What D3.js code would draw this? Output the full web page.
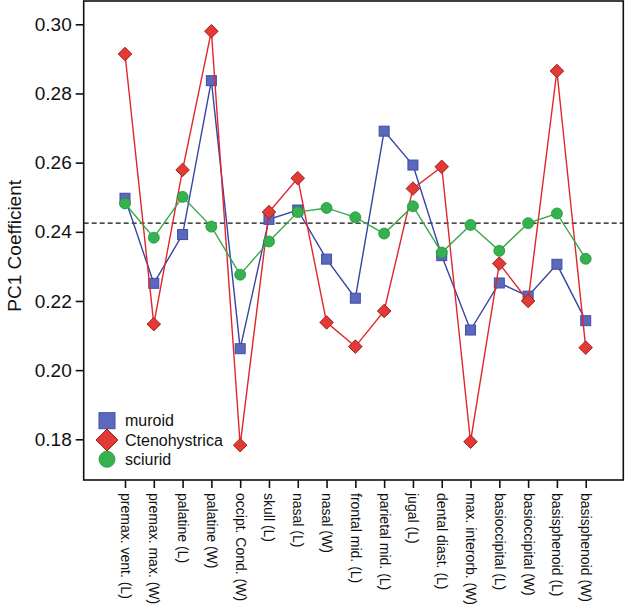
<!DOCTYPE html>
<html><head><meta charset="utf-8">
<script src="https://cdn.jsdelivr.net/npm/d3@7"></script>
<style>body{margin:0;background:#fff}svg{display:block;font-family:"Liberation Sans",Arial,sans-serif}</style>
</head><body><svg id="c" width="628" height="613"></svg>
<script>
const categories = ["premax. vent. (L)","premax. max. (W)","palatine (L)","palatine (W)","occipt. Cond. (W)","skull (L)","nasal (L)","nasal (W)","frontal mid. (L)","parietal mid. (L)","jugal (L)","dental diast. (L)","max. interorb. (W)","basioccipital (L)","basioccipital (W)","basisphenoid (L)","basisphenoid (W)"];
const muroid = [0.2497,0.2251,0.2392,0.2837,0.2062,0.2436,0.2463,0.2321,0.2208,0.2691,0.2593,0.2331,0.2116,0.2252,0.2214,0.2306,0.2143];
const ctenohystrica = [0.2914,0.2133,0.2579,0.2980,0.1783,0.2457,0.2555,0.2138,0.2068,0.2171,0.2525,0.2588,0.1793,0.2308,0.2200,0.2865,0.2065];
const sciurid = [0.2482,0.2383,0.2501,0.2415,0.2276,0.2372,0.2457,0.2469,0.2442,0.2395,0.2474,0.2340,0.2420,0.2345,0.2425,0.2453,0.2322];
const yTicks = [0.18,0.20,0.22,0.24,0.26,0.28,0.30];
const refLine = 0.2425;
const seriesNames = ["muroid","Ctenohystrica","sciurid"];

const svg = d3.select("#c");
const L = 83.7, R = 623.3, T = 1, B = 480;
const y = d3.scaleLinear().domain([0.18,0.30]).range([439.3,24.3]);
const x = d3.scalePoint().domain(categories).range([125,585.7]);

// frame
svg.append("rect").attr("x",L).attr("y",T).attr("width",R-L).attr("height",B-T)
  .attr("fill","none").attr("stroke","#111").attr("stroke-width",1.6);

// y axis
const ya = svg.append("g").attr("transform",`translate(${L},0)`)
  .call(d3.axisLeft(y).tickValues(yTicks).tickFormat(d3.format(".2f")).tickSize(8).tickPadding(4));
ya.select(".domain").remove();
ya.selectAll("line").attr("stroke","#111").attr("stroke-width",1.6);
ya.selectAll("text").attr("font-size",19).attr("fill","#111").attr("font-family","Liberation Sans, Arial, sans-serif");

// x axis
const xa = svg.append("g").attr("transform",`translate(0,${B})`)
  .call(d3.axisBottom(x).tickSize(8).tickPadding(0));
xa.select(".domain").remove();
xa.selectAll("line").attr("stroke","#111").attr("stroke-width",1.6);
xa.selectAll("text").attr("font-size",14).attr("fill","#111").attr("font-family","Liberation Sans, Arial, sans-serif")
  .attr("text-anchor","start").attr("dy",null).attr("y",0)
  .attr("dominant-baseline","central")
  .attr("transform","translate(0,13) rotate(90)");

// y title
svg.append("text").attr("transform",`translate(21,${(y(0.18)+y(0.30))/2+14}) rotate(-90)`)
  .attr("text-anchor","middle").attr("font-size",19).attr("fill","#111").text("PC1 Coefficient");

// reference line
svg.append("line").attr("x1",L).attr("x2",R).attr("y1",y(refLine)).attr("y2",y(refLine))
  .attr("stroke","#111").attr("stroke-width",1.4).attr("stroke-dasharray","5,3");

const styles = [
  {data:muroid, line:"#3445a3", fill:"#5b69bd", stroke:"#3f4ea6", shape:"square"},
  {data:ctenohystrica, line:"#e0262a", fill:"#e43a36", stroke:"#a31c1c", shape:"diamond"},
  {data:sciurid, line:"#38a84a", fill:"#33b24e", stroke:"#24913c", shape:"circle"}
];
const lineGen = d3.line().x((d,i)=>x(categories[i])).y(d=>y(d));

function marker(g, shape, cx, cy, s, fill, stroke){
  if(shape==="square") g.append("rect").attr("x",cx-s/2).attr("y",cy-s/2).attr("width",s).attr("height",s).attr("fill",fill).attr("stroke",stroke).attr("stroke-width",1);
  else if(shape==="diamond") g.append("path").attr("d",`M${cx},${cy-s/2}L${cx+s/2},${cy}L${cx},${cy+s/2}L${cx-s/2},${cy}Z`).attr("fill",fill).attr("stroke",stroke).attr("stroke-width",1);
  else g.append("circle").attr("cx",cx).attr("cy",cy).attr("r",s/2).attr("fill",fill).attr("stroke",stroke).attr("stroke-width",0.8);
}
const sizes = {square:10, diamond:13.5, circle:11};
styles.forEach(st=>{
  const g = svg.append("g");
  g.append("path").datum(st.data).attr("d",lineGen).attr("fill","none").attr("stroke",st.line).attr("stroke-width",1.4);
  st.data.forEach((v,i)=>marker(g, st.shape, x(categories[i]), y(v), sizes[st.shape], st.fill, st.stroke));
});

// legend
const legSizes = {square:16, diamond:22, circle:16};
const legY = [420.7, 440, 459.3];
styles.forEach((st,i)=>{
  const g = svg.append("g");
  marker(g, st.shape, 107, legY[i], legSizes[st.shape], st.fill, st.stroke);
  g.append("text").attr("x",125).attr("y",legY[i]).attr("dominant-baseline","central")
    .attr("font-size",16).attr("fill","#111").text(seriesNames[i]);
});
</script></body></html>
